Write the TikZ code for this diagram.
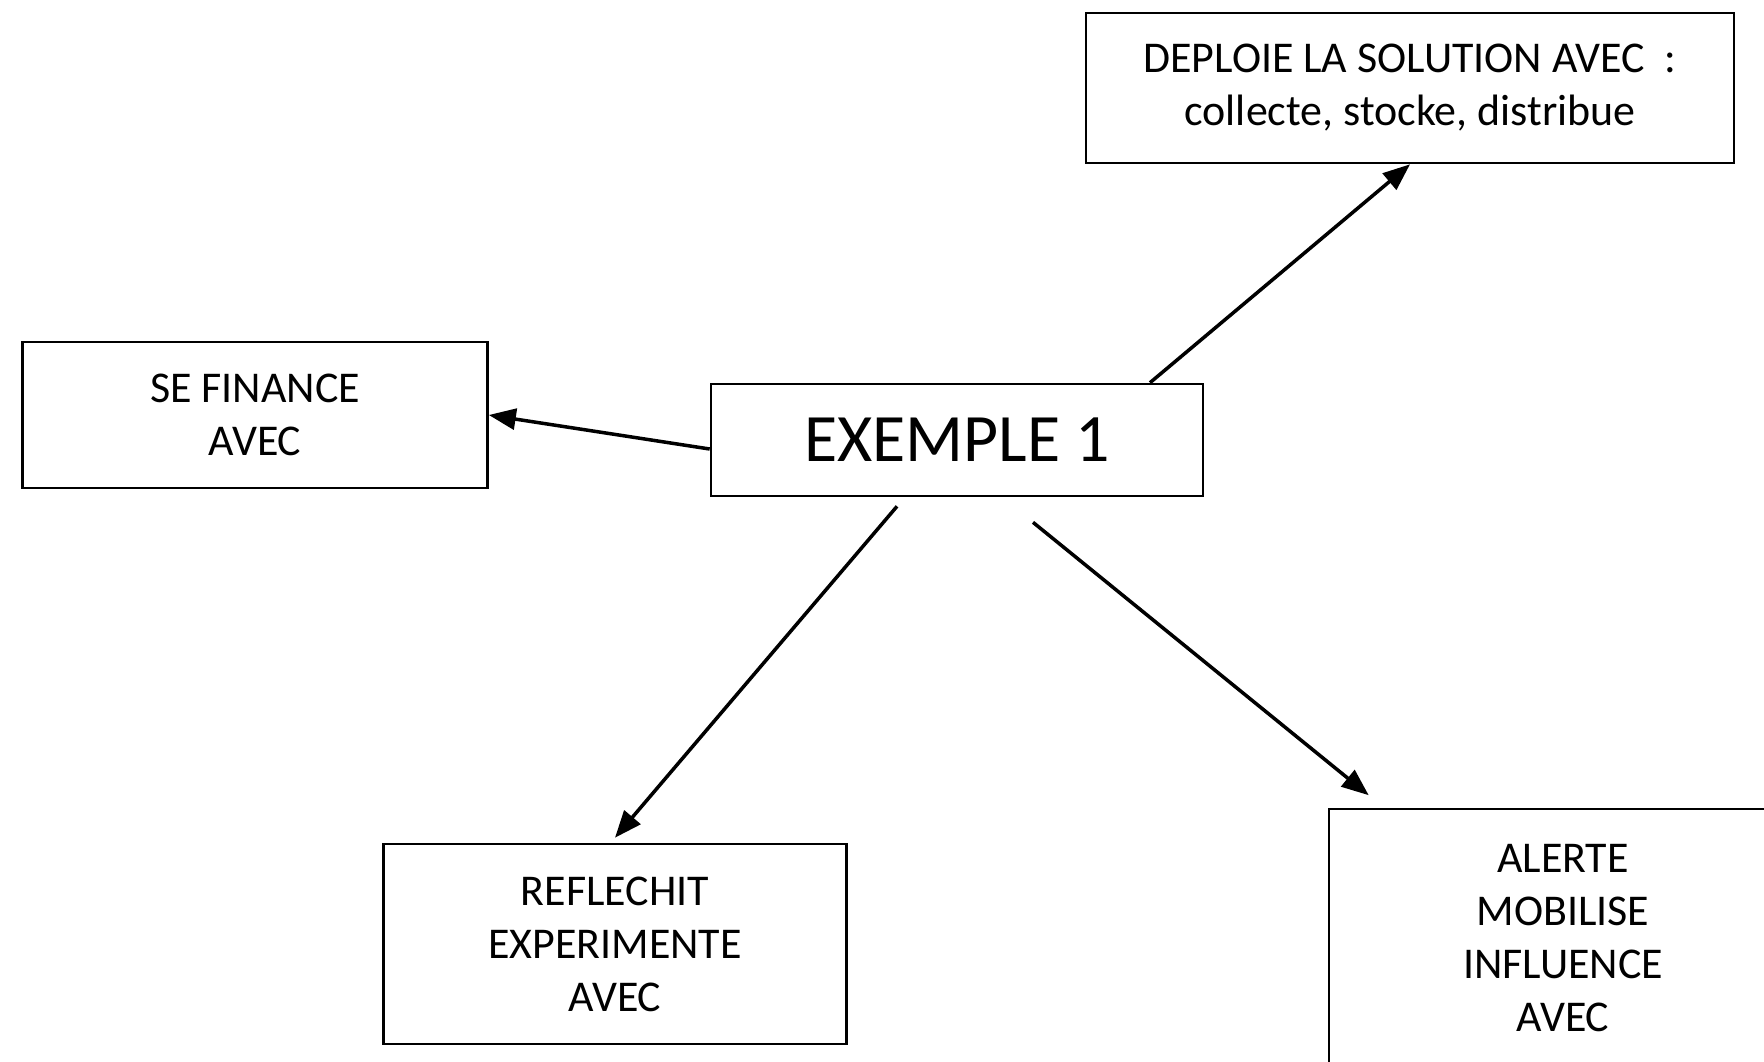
\documentclass[tikz,border=0pt]{standalone}
\usepackage{fontspec}
\setmainfont{Carlito}
\usepackage{tikz}
\usetikzlibrary{calc}
\usetikzlibrary{positioning}
\usetikzlibrary{arrows.meta}
\begin{document}
\begin{tikzpicture}[every node/.style = {align=center},
    box/.style = {draw, line width=0.75pt, inner sep=0pt, font=\fontsize{12.5}{15.1}\selectfont},
    link/.style = {-{Triangle[length=0.27cm,width=0.21cm]}, line width=1pt}]
\clip (0,0) rectangle (17.64,10.61);
\node[box, minimum width=4.92cm, minimum height=1.12cm, font=\fontsize{19.3}{23}\selectfont] (ex) at (9.57,6.21) {EXEMPLE 1};
\node[box, minimum width=6.48cm, minimum height=1.50cm] (deploie) at (14.10,9.73) {DEPLOIE LA SOLUTION AVEC~~:\\collecte, stocke, distribue};
\node[box, minimum width=4.65cm, minimum height=1.46cm] (finance) at (2.55,6.46) {SE FINANCE\\AVEC};
\node[box, minimum width=4.63cm, minimum height=2.00cm] (reflechit) at (6.15,1.17) {REFLECHIT\\EXPERIMENTE\\AVEC};
\node[box, minimum width=4.68cm, minimum height=2.58cm] (alerte) at (15.63,1.23) {ALERTE\\MOBILISE\\INFLUENCE\\AVEC};
\draw [link] ([xshift=1.93cm]ex.north) -- (deploie.south);
\draw [link] ([yshift=-0.09cm]ex.west) -- (finance.east);
\draw [link] ([xshift=-0.6cm,yshift=-0.09cm]ex.south) -- ([yshift=0.05cm]reflechit.north);
\draw [link] ([xshift=0.76cm,yshift=-0.25cm]ex.south) -- ([xshift=0.41cm,yshift=0.125cm]alerte.north west);
\end{tikzpicture}
\end{document}
